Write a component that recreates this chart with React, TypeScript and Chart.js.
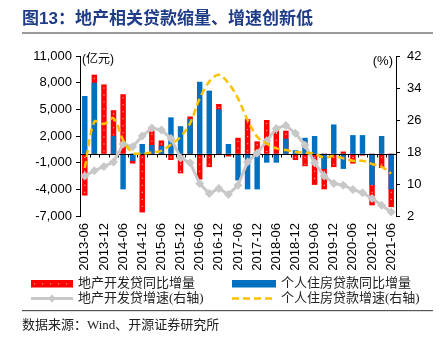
import React, { useEffect, useRef } from "react";
import { Chart, registerables } from "chart.js";
Chart.register(...registerables);

const categories = [
  "2013-06", "2013-09", "2013-12", "2014-03", "2014-06", "2014-09", "2014-12",
  "2015-03", "2015-06", "2015-09", "2015-12", "2016-03", "2016-06", "2016-09",
  "2016-12", "2017-03", "2017-06", "2017-09", "2017-12", "2018-03", "2018-06",
  "2018-09", "2018-12", "2019-03", "2019-06", "2019-09", "2019-12", "2020-03",
  "2020-06", "2020-09", "2020-12", "2021-03", "2021-06",
];

// 地产开发贷同比增量 (亿元)
const devLoanIncrease = [
  -4700, 8900, 7800, 4900, 6700, -1100, -6600, 2600, 1500, -700, -2200, 4200,
  -2900, -1500, 5600, -300, 1800, 3900, 1400, 3800, 2700, 2600, -700, -1400,
  -3500, -4000, -1500, 250, -1100, -200, -5800, -1600, -6000,
];

// 个人住房贷款同比增量 (亿元)
const mortgageIncrease = [
  6500, 8000, 0, 2000, -4000, -800, 1100, 1000, 900, 4100, 3100, 3900, 8100,
  7100, 5000, 1100, -3000, -4000, -4000, -1000, -1000, 1700, 400, 1800, 2000,
  -1700, 3300, -1700, 2100, 2100, -3500, 2000, -4000,
];

// 地产开发贷增速 (%, 右轴)
const devLoanGrowth = [
  12.0, 13.3, 14.4, 15.5, 20.0, 19.3, 22.0, 24.0, 23.5, 21.4, 16.5, 15.3, 10.1,
  7.6, 8.9, 7.4, 9.7, 15.5, 17.7, 20.8, 23.9, 24.6, 22.7, 19.7, 15.3, 12.0,
  10.1, 9.7, 8.6, 7.8, 6.4, 4.7, 3.0,
];

// 个人住房贷款增速 (%, 右轴)
const mortgageGrowth = [
  14.0, 25.6, 25.0, 26.4, 21.0, 17.8, 17.6, 17.9, 18.3, 19.9, 21.8, 25.2, 31.4,
  35.6, 37.3, 35.2, 31.4, 26.0, 21.8, 20.1, 18.9, 18.5, 18.0, 17.8, 17.6, 16.6,
  17.0, 16.4, 15.8, 15.8, 15.0, 14.3, 12.6,
];

const leftTicks = [-7000, -4000, -1000, 2000, 5000, 8000, 11000];
const rightTicks = [2, 10, 18, 26, 34, 42];

const titleText = "图13：地产相关贷款缩量、增速创新低";
const sourceText = "数据来源：Wind、开源证券研究所";
const legendLabels = [
  "地产开发贷同比增量",
  "个人住房贷款同比增量",
  "地产开发贷增速(右轴)",
  "个人住房贷款增速(右轴)",
];

const RED = "#FF0000";
const BLUE = "#0070C0";
const GREY = "#C8C8C8";
const YELLOW = "#FFC000";
const SANS = "'Liberation Sans', Arial, 'Noto Sans CJK SC', sans-serif";
const SERIF = "'Liberation Serif', 'Noto Sans CJK SC', serif";

export default function App() {
  const ref = useRef<HTMLCanvasElement | null>(null);

  useEffect(() => {
    if (!ref.current) return;

    const drawDiamond = (ctx: CanvasRenderingContext2D, x: number, y: number, r: number) => {
      ctx.beginPath();
      ctx.moveTo(x, y - r);
      ctx.lineTo(x + r, y);
      ctx.lineTo(x, y + r);
      ctx.lineTo(x - r, y);
      ctx.closePath();
      ctx.fill();
    };

    const deco = {
      id: "deco",
      afterDatasetDraw(chart: any, args: any) {
        const ctx = chart.ctx as CanvasRenderingContext2D;
        if (args.index === 0) {
          const meta = chart.getDatasetMeta(0);
          ctx.save();
          ctx.fillStyle = "rgba(255,225,225,0.9)";
          meta.data.forEach((el: any) => {
            const top = Math.min(el.y, el.base);
            const bot = Math.max(el.y, el.base);
            for (let yy = top + 3; yy < bot - 2; yy += 7) {
              ctx.fillRect(el.x - 0.5, yy, 1.1, 1.1);
            }
          });
          ctx.restore();
        }
        if (args.index === 1) {
          const y = chart.scales.y;
          const y0 = Math.round(y.getPixelForValue(0)) + 0.5;
          const { left, right } = chart.chartArea;
          ctx.save();
          ctx.strokeStyle = "#000";
          ctx.lineWidth = 1;
          ctx.beginPath();
          ctx.moveTo(left, y0);
          ctx.lineTo(right, y0);
          const step = (right - left) / categories.length;
          for (let i = 1; i < categories.length; i++) {
            const px = Math.round(left + i * step) + 0.5;
            ctx.moveTo(px, y0);
            ctx.lineTo(px, y0 + 3);
          }
          ctx.stroke();
          ctx.restore();
        }
      },
      afterDraw(chart: any) {
        const ctx = chart.ctx as CanvasRenderingContext2D;
        ctx.save();
        ctx.fillStyle = "#1f3c88";
        ctx.font = `bold 17px ${SANS}`;
        ctx.textBaseline = "middle";
        ctx.textAlign = "left";
        ctx.fillText(titleText, 22, 19);
        ctx.fillStyle = "#9a9a9a";
        ctx.fillRect(22, 32, 411, 2);
        ctx.fillStyle = "#000";
        ctx.font = `12px ${SANS}`;
        ctx.fillText("(亿元)", 82, 60);
        ctx.textAlign = "right";
        ctx.font = `13px ${SANS}`;
        ctx.fillText("(%)", 393, 61);
        ctx.textAlign = "left";

        ctx.fillStyle = RED;
        ctx.fillRect(31, 280, 42, 7.5);
        ctx.fillStyle = "rgba(255,225,225,0.9)";
        for (let xx = 34; xx < 72; xx += 8) ctx.fillRect(xx, 283.3, 1.1, 1.1);
        ctx.fillStyle = BLUE;
        ctx.fillRect(232, 280, 44, 7.5);
        ctx.strokeStyle = GREY;
        ctx.lineWidth = 3;
        ctx.beginPath();
        ctx.moveTo(31, 298.5);
        ctx.lineTo(73, 298.5);
        ctx.stroke();
        ctx.fillStyle = GREY;
        drawDiamond(ctx, 52, 298.5, 4);
        ctx.strokeStyle = YELLOW;
        ctx.lineWidth = 2.5;
        ctx.setLineDash([7, 4]);
        ctx.beginPath();
        ctx.moveTo(232, 298.5);
        ctx.lineTo(276, 298.5);
        ctx.stroke();
        ctx.setLineDash([]);

        ctx.fillStyle = "#222";
        ctx.font = `13px ${SERIF}`;
        ctx.textBaseline = "middle";
        ctx.fillText(legendLabels[0], 78, 284);
        ctx.fillText(legendLabels[1], 281, 284);
        ctx.fillText(legendLabels[2], 78, 299);
        ctx.fillText(legendLabels[3], 281, 299);

        ctx.fillStyle = "#555";
        ctx.fillRect(22, 310, 411, 1.2);
        ctx.fillStyle = "#222";
        ctx.font = `13px ${SERIF}`;
        ctx.fillText(sourceText, 22, 325.5);
        ctx.restore();
      },
    };

    const chart = new Chart(ref.current, {
      type: "bar",
      data: {
        labels: categories,
        datasets: [
          {
            type: "bar",
            label: legendLabels[0],
            data: devLoanIncrease,
            backgroundColor: RED,
            yAxisID: "y",
            order: 3,
            grouped: false,
            categoryPercentage: 1,
            barPercentage: 0.57,
          } as any,
          {
            type: "bar",
            label: legendLabels[1],
            data: mortgageIncrease,
            backgroundColor: BLUE,
            yAxisID: "y",
            order: 2,
            grouped: false,
            categoryPercentage: 1,
            barPercentage: 0.57,
          } as any,
          {
            type: "line",
            label: legendLabels[2],
            data: devLoanGrowth,
            borderColor: GREY,
            backgroundColor: GREY,
            borderWidth: 3,
            pointStyle: "rectRot",
            pointRadius: 4.5,
            pointBorderWidth: 0,
            tension: 0,
            yAxisID: "y1",
            order: 1,
          } as any,
          {
            type: "line",
            label: legendLabels[3],
            data: mortgageGrowth,
            borderColor: YELLOW,
            backgroundColor: YELLOW,
            borderWidth: 2.5,
            borderDash: [7, 4],
            pointRadius: 0,
            tension: 0.35,
            yAxisID: "y1",
            order: 0,
          } as any,
        ],
      },
      options: {
        responsive: false,
        animation: false,
        devicePixelRatio: 1,
        layout: { padding: { top: 56, bottom: 0, left: 0, right: 0 } },
        plugins: {
          legend: { display: false },
          title: { display: false },
          tooltip: { enabled: false },
        },
        scales: {
          x: {
            offset: true,
            grid: { display: false, drawTicks: false },
            border: { display: false },
            ticks: {
              autoSkip: false,
              maxRotation: 90,
              minRotation: 90,
              padding: 7,
              color: "#000",
              font: { size: 13, family: SANS },
              callback: (_v: any, i: number) => (i % 2 === 0 ? categories[i] : ""),
            },
            afterFit: (s: any) => {
              s.height = 131;
            },
          },
          y: {
            position: "left",
            min: -7000,
            max: 11000,
            afterBuildTicks: (s: any) => {
              s.ticks = leftTicks.map((v) => ({ value: v }));
            },
            afterFit: (s: any) => {
              s.width = 80;
            },
            grid: { drawOnChartArea: false, tickLength: 4, color: "#000" },
            border: { color: "#000" },
            ticks: {
              padding: 4,
              color: "#000",
              font: { size: 13, family: SANS },
              callback: (v: any) => Number(v).toLocaleString("en-US"),
            },
          },
          y1: {
            position: "right",
            min: 2,
            max: 42,
            afterBuildTicks: (s: any) => {
              s.ticks = rightTicks.map((v) => ({ value: v }));
            },
            afterFit: (s: any) => {
              s.width = 50;
            },
            grid: { drawOnChartArea: false, tickLength: 4, color: "#000" },
            border: { color: "#000" },
            ticks: {
              padding: 7,
              color: "#000",
              font: { size: 13, family: SANS },
              callback: (v: any) => String(v),
            },
          },
        },
      } as any,
      plugins: [deco],
    });

    return () => chart.destroy();
  }, []);

  return (
    <div style={{ position: "fixed", left: 0, top: 0, width: 446, height: 347, background: "#fff" }}>
      <canvas ref={ref} width={446} height={347} style={{ width: 446, height: 347, display: "block" }} />
    </div>
  );
}
